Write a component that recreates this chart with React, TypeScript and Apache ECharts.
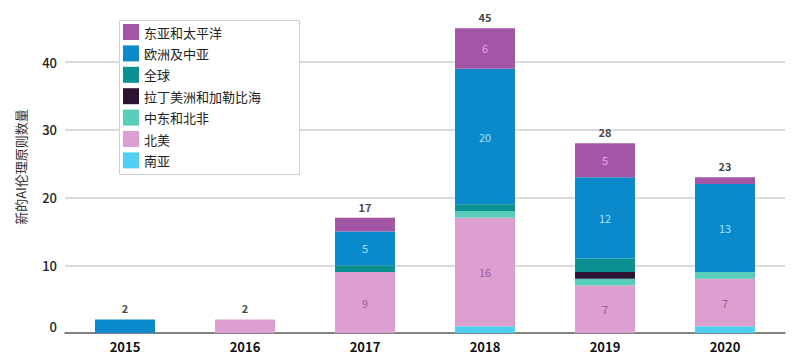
import React, { useEffect, useRef } from "react";
import * as echarts from "echarts";

const years = ["2015", "2016", "2017", "2018", "2019", "2020"];
const eastAsia = [0, 0, 2, 6, 5, 1];
const europe = [2, 0, 5, 20, 12, 13];
const globalVals = [0, 0, 1, 1, 2, 0];
const latin = [0, 0, 0, 0, 1, 0];
const middleEast = [0, 0, 0, 1, 1, 1];
const northAmerica = [0, 2, 9, 16, 7, 7];
const southAsia = [0, 0, 0, 1, 0, 1];
const yTicks = [0, 10, 20, 30, 40];

const names = {
  eastAsia: "东亚和太平洋",
  europe: "欧洲及中亚",
  global: "全球",
  latin: "拉丁美洲和加勒比海",
  middleEast: "中东和北非",
  northAmerica: "北美",
  southAsia: "南亚",
};

const FONT = "'Noto Sans CJK SC', 'Noto Sans', sans-serif";

export default function App() {
  const ref = useRef<HTMLDivElement>(null);
  useEffect(() => {
    document.body.style.margin = "0";
    if (!ref.current) return;
    const chart = echarts.init(ref.current, undefined, { renderer: "svg" });
    const stackOrder = [
      { key: "southAsia", data: southAsia, color: "#4fd0f2", label: null },
      { key: "northAmerica", data: northAmerica, color: "#dd9fd0", label: "#9b5a96" },
      { key: "middleEast", data: middleEast, color: "#58cdb9", label: null },
      { key: "latin", data: latin, color: "#2b1433", label: null },
      { key: "global", data: globalVals, color: "#0b9090", label: null },
      { key: "europe", data: europe, color: "#0a89cb", label: "#a6e3f7" },
      { key: "eastAsia", data: eastAsia, color: "#a356a6", label: "#f2a2ee" },
    ];
    const totals = years.map((_, i) =>
      stackOrder.reduce((s, o) => s + o.data[i], 0)
    );
    const series: any[] = stackOrder.map((o) => ({
      name: (names as any)[o.key],
      type: "bar",
      stack: "total",
      barWidth: 60,
      clip: false,
      data: o.data,
      itemStyle: { color: o.color },
      label: {
        show: !!o.label,
        position: "inside",
        color: o.label || "#000",
        fontSize: 11,
        fontFamily: FONT,
        formatter: (p: any) => (p.value >= 5 ? String(p.value) : ""),
      },
    }));
    series.push({
      name: "total",
      type: "scatter",
      data: totals,
      symbolSize: 1,
      clip: false,
      silent: true,
      itemStyle: { color: "rgba(0,0,0,0)" },
      label: {
        show: true,
        position: "top",
        distance: 5,
        color: "#111",
        fontSize: 11,
        fontWeight: "bold",
        fontFamily: FONT,
      },
      z: 10,
    });
    chart.setOption({
      animation: false,
      backgroundColor: "#ffffff",
      grid: { left: 65, top: 62, width: 720, height: 271 },
      legend: {
        data: [
          names.eastAsia,
          names.europe,
          names.global,
          names.latin,
          names.middleEast,
          names.northAmerica,
          names.southAsia,
        ],
        orient: "vertical",
        left: 119,
        top: 20,
        padding: 4,
        itemWidth: 16,
        itemHeight: 16,
        itemGap: 5.4,
        icon: "rect",
        z: 5,
        textStyle: {
          fontSize: 13,
          lineHeight: 16,
          color: "#222",
          fontFamily: FONT,
        },
      },
      graphic: [
        {
          type: "rect",
          z: 4,
          shape: { x: 119.5, y: 20.5, width: 180, height: 154 },
          style: { fill: "#ffffff", stroke: "#cfcfcf", lineWidth: 1 },
        },
        {
          type: "text",
          x: 20,
          y: 167,
          rotation: Math.PI / 2,
          style: {
            text: "新的AI伦理原则数量",
            fontSize: 13,
            fill: "#333",
            fontFamily: FONT,
            textAlign: "center",
            textVerticalAlign: "middle",
          },
        },
      ],
      xAxis: {
        type: "category",
        data: years,
        axisLine: { lineStyle: { color: "#666", width: 1.5 } },
        axisTick: { show: false },
        axisLabel: {
          margin: 7,
          fontSize: 13,
          fontWeight: "bold",
          color: "#111",
          fontFamily: FONT,
        },
      },
      yAxis: {
        type: "value",
        min: yTicks[0],
        max: yTicks[yTicks.length - 1],
        interval: 10,
        axisLine: { show: false },
        axisTick: { show: false },
        splitLine: { lineStyle: { color: "#cccccc", width: 1.5 } },
        axisLabel: {
          margin: 8,
          fontSize: 13,
          fontWeight: 500,
          color: "#222",
          fontFamily: FONT,
          formatter: (v: number) => (v === 0 ? "{z|0}" : String(v)),
          rich: {
            z: {
              fontSize: 13,
              fontWeight: 500,
              color: "#222",
              fontFamily: FONT,
              padding: [0, 0, 14, 0],
            },
          },
        },
      },
      series,
    });
    return () => chart.dispose();
  }, []);
  return (
    <div
      ref={ref}
      style={{ width: 800, height: 363, position: "absolute", left: 0, top: 0 }}
    />
  );
}
